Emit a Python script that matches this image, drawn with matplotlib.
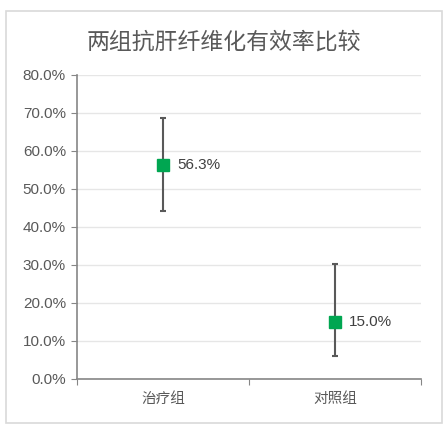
import matplotlib
matplotlib.use("Agg")
import matplotlib.pyplot as plt
from matplotlib.patches import Rectangle
from matplotlib.ticker import FuncFormatter, FixedLocator

plt.rcParams['font.family'] = ['Liberation Sans', 'Noto Sans CJK SC', 'DejaVu Sans']

title = "两组抗肝纤维化有效率比较"
categories = ["治疗组", "对照组"]
rates = [56.3, 15.0]
lower = [44.2, 6.1]
upper = [68.7, 30.2]
yticks = [0, 10, 20, 30, 40, 50, 60, 70, 80]

fig = plt.figure(figsize=(4.46, 4.26), dpi=100)
fig.patch.set_facecolor('white')
fig.add_artist(Rectangle((6/446, 1-423/426), 436/446, 412/426, transform=fig.transFigure,
                         fill=False, edgecolor='#D9D9D9', linewidth=1.2))

ax = fig.add_axes([77/446, 1-379/426, 344/446, (379-74.7)/426])
x = list(range(len(categories)))
yerr = [[r - l for r, l in zip(rates, lower)], [u - r for r, u in zip(rates, upper)]]
ax.errorbar(x, rates, yerr=yerr, fmt='s', color='#00A651', markersize=9,
            ecolor='#595959', elinewidth=1.5, capsize=2.5, capthick=1.5, zorder=3)
for xi, r in zip(x, rates):
    ax.annotate(f"{r:.1f}%", (xi, r), xytext=(10, 0), textcoords='offset points',
                ha='left', va='center', fontsize=11, color='#404040')

ax.set_xlim(-0.5, 1.5)
ax.set_ylim(0, 80)
ax.set_yticks(yticks)
ax.yaxis.set_major_formatter(FuncFormatter(lambda v, p: f"{v:.1f}%"))
ax.xaxis.set_major_locator(FixedLocator([-0.5, 0.5, 1.5]))
ax.xaxis.set_major_formatter(FuncFormatter(lambda v, p: ""))
ax.xaxis.set_minor_locator(FixedLocator(x))
ax.set_xticklabels(categories, minor=True, family=['Noto Sans CJK SC', 'DejaVu Sans'])
ax.tick_params(axis='x', which='minor', length=0, pad=9, labelsize=10.5, labelcolor='#595959')
ax.tick_params(axis='x', which='major', length=4, color='#868686', direction='out')
ax.tick_params(axis='y', length=4, color='#868686', labelsize=11, labelcolor='#595959', pad=4)
ax.grid(axis='y', color='#E6E6E6', linewidth=1)
ax.set_axisbelow(True)
for s in ['top', 'right']:
    ax.spines[s].set_visible(False)
for s in ['left', 'bottom']:
    ax.spines[s].set_color('#868686')
    ax.spines[s].set_linewidth(1.2)

fig.text(224/446, 1-42/426, title, ha='center', va='center', fontsize=16.5, color='#595959',
         family=['Noto Sans CJK SC', 'DejaVu Sans'])

fig.savefig("out.png", dpi=100, facecolor='white')
